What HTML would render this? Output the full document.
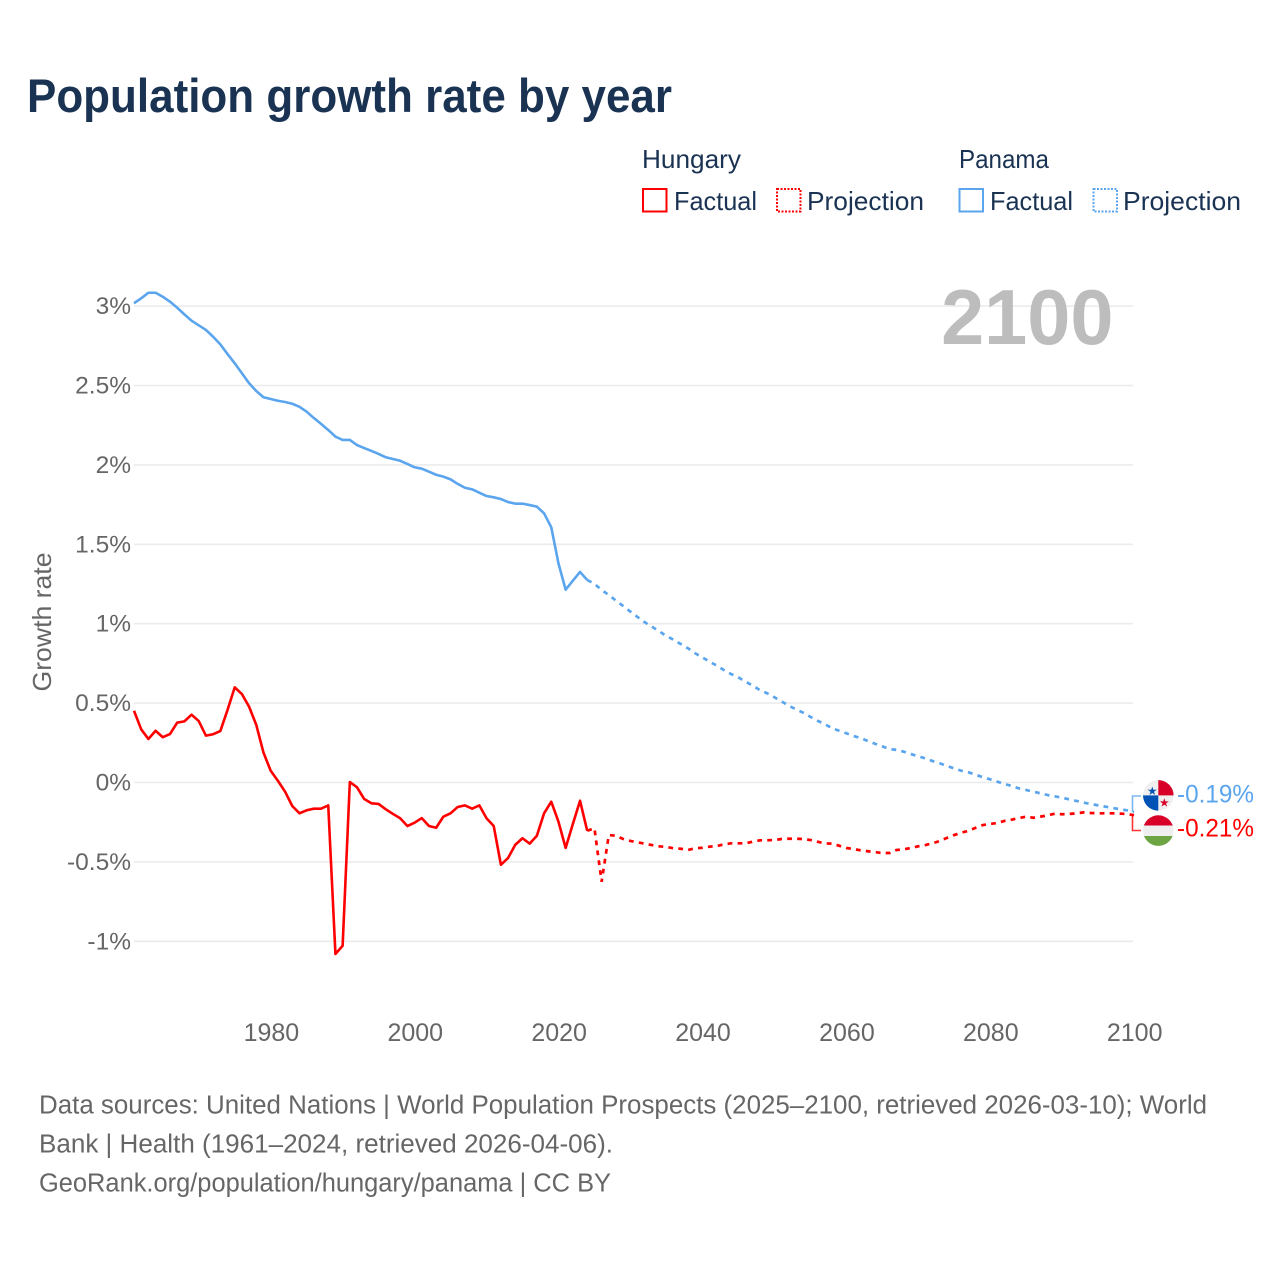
<!DOCTYPE html>
<html lang="en">
<head>
<meta charset="utf-8">
<title>Population growth rate by year</title>
<style>
html,body{margin:0;padding:0;background:#fff;}
svg{display:block;}
text{font-family:"Liberation Sans",sans-serif;}
</style>
</head>
<body>
<svg id="chart" xmlns="http://www.w3.org/2000/svg" width="1280" height="1280" viewBox="0 0 1280 1280">
  <rect x="0" y="0" width="1280" height="1280" fill="#fff"/>
  <text x="27" y="112" font-size="47" font-weight="700" fill="#1a3353" textLength="645" lengthAdjust="spacingAndGlyphs">Population growth rate by year</text>

  <g font-size="26" fill="#1a3353">
    <text x="642" y="168" textLength="99" lengthAdjust="spacingAndGlyphs">Hungary</text>
    <rect x="643" y="189" width="23.5" height="22.5" fill="none" stroke="#ff0000" stroke-width="2"/>
    <text x="674" y="210" textLength="83" lengthAdjust="spacingAndGlyphs">Factual</text>
    <rect x="777" y="189" width="23.5" height="22.5" fill="none" stroke="#ff0000" stroke-width="2" stroke-dasharray="2 1.5"/>
    <text x="807" y="210" textLength="117" lengthAdjust="spacingAndGlyphs">Projection</text>
    <text x="959" y="168" textLength="90" lengthAdjust="spacingAndGlyphs">Panama</text>
    <rect x="959.5" y="189" width="23.5" height="22.5" fill="none" stroke="#5aa5ee" stroke-width="2"/>
    <text x="990" y="210" textLength="83" lengthAdjust="spacingAndGlyphs">Factual</text>
    <rect x="1093.5" y="189" width="23.5" height="22.5" fill="none" stroke="#5aa5ee" stroke-width="2" stroke-dasharray="2 1.5"/>
    <text x="1123" y="210" textLength="118" lengthAdjust="spacingAndGlyphs">Projection</text>
  </g>

  <text transform="translate(51,622) rotate(-90)" text-anchor="middle" font-size="26" fill="#666666" textLength="139" lengthAdjust="spacingAndGlyphs">Growth rate</text>

  <g id="grid"></g>
  <g id="yticks"></g>
  <g id="xticks"></g>

  <text x="1113.5" y="344" text-anchor="end" font-size="77.5" font-weight="700" fill="#bdbdbd">2100</text>

  <g id="series"></g>

  <defs>
    <clipPath id="flag-clip-panama"><circle cx="1158.3" cy="795.4" r="15.3"/></clipPath>
    <clipPath id="flag-clip-hungary"><circle cx="1158.3" cy="830.6" r="15.3"/></clipPath>
  </defs>
  <g clip-path="url(#flag-clip-panama)">
    <rect x="1143" y="780" width="31" height="31" fill="#efefef"/>
    <rect x="1158.3" y="780" width="15.3" height="15.4" fill="#d80027"/>
    <rect x="1143" y="795.4" width="15.3" height="15.4" fill="#0052b4"/>
    <polygon points="1152.3,786.6 1153.4,789.8 1156.8,789.8 1154,791.8 1155.1,795 1152.3,793 1149.5,795 1150.6,791.8 1147.8,789.8 1151.2,789.8" fill="#0052b4"/>
    <polygon points="1164.3,798.2 1165.4,801.4 1168.8,801.4 1166,803.4 1167.1,806.6 1164.3,804.6 1161.5,806.6 1162.6,803.4 1159.8,801.4 1163.2,801.4" fill="#d80027"/>
  </g>
  <g clip-path="url(#flag-clip-hungary)">
    <rect x="1143" y="815" width="31" height="11" fill="#d80027"/>
    <rect x="1143" y="825.5" width="31" height="10.5" fill="#efefef"/>
    <rect x="1143" y="836" width="31" height="11" fill="#6da544"/>
  </g>

  <g id="endlabels" font-size="25"></g>

  <g font-size="25.5" fill="#666666">
    <text x="39" y="1113.5" textLength="1168" lengthAdjust="spacingAndGlyphs">Data sources: United Nations | World Population Prospects (2025–2100, retrieved 2026-03-10); World</text>
    <text x="39" y="1152.5" textLength="574" lengthAdjust="spacingAndGlyphs">Bank | Health (1961–2024, retrieved 2026-04-06).</text>
    <text x="39" y="1191.5" textLength="572" lengthAdjust="spacingAndGlyphs">GeoRank.org/population/hungary/panama | CC BY</text>
  </g>
</svg>

<script>
const factualStartYear = 1961;
const projectionStartYear = 2025;
const yTickValues = [3, 2.5, 2, 1.5, 1, 0.5, 0, -0.5, -1];
const xTickYears = [1980, 2000, 2020, 2040, 2060, 2080, 2100];

const panamaFactual = [
  3.018,3.049,3.084,3.084,3.059,3.028,2.990,2.948,2.908,2.879,
  2.850,2.807,2.759,2.698,2.640,2.577,2.514,2.465,2.426,2.415,
  2.404,2.396,2.385,2.366,2.335,2.295,2.258,2.220,2.178,2.157,
  2.157,2.125,2.106,2.088,2.069,2.048,2.037,2.026,2.006,1.985,
  1.976,1.957,1.938,1.926,1.909,1.880,1.856,1.846,1.825,1.804,
  1.796,1.785,1.766,1.756,1.756,1.747,1.737,1.695,1.607,1.380,
  1.214,1.271,1.326,1.275
];
const panamaProjection = [
  1.252,1.212,1.181,1.145,1.111,1.076,1.042,1.009,0.981,0.952,
  0.923,0.899,0.872,0.845,0.814,0.788,0.761,0.736,0.708,0.683,
  0.662,0.635,0.610,0.582,0.562,0.537,0.511,0.484,0.461,0.440,
  0.414,0.389,0.368,0.343,0.326,0.310,0.293,0.280,0.261,0.244,
  0.228,0.211,0.205,0.194,0.179,0.165,0.152,0.135,0.121,0.104,
  0.089,0.074,0.064,0.049,0.033,0.020,0.005,-0.009,-0.022,-0.037,
  -0.047,-0.058,-0.068,-0.079,-0.087,-0.096,-0.106,-0.116,-0.127,-0.135,
  -0.144,-0.152,-0.161,-0.167,-0.175,-0.186
];
const hungaryFactual = [
  0.452,0.335,0.274,0.326,0.285,0.305,0.377,0.385,0.427,0.387,
  0.295,0.304,0.324,0.457,0.599,0.557,0.477,0.362,0.188,0.074,
  0.011,-0.058,-0.148,-0.194,-0.175,-0.165,-0.165,-0.144,-1.080,-1.028,
  0.003,-0.030,-0.104,-0.131,-0.135,-0.169,-0.198,-0.225,-0.274,-0.253,
  -0.224,-0.274,-0.285,-0.215,-0.194,-0.154,-0.144,-0.165,-0.144,-0.225,
  -0.274,-0.518,-0.475,-0.392,-0.351,-0.385,-0.335,-0.194,-0.121,-0.247,
  -0.412,-0.261,-0.115,-0.304
];
const hungaryProjection = [
  -0.288,-0.625,-0.331,-0.335,-0.356,-0.368,-0.377,-0.385,-0.394,-0.402,
  -0.406,-0.414,-0.417,-0.425,-0.414,-0.411,-0.404,-0.400,-0.389,-0.383,
  -0.383,-0.383,-0.373,-0.364,-0.364,-0.362,-0.356,-0.354,-0.354,-0.356,
  -0.362,-0.373,-0.383,-0.385,-0.398,-0.412,-0.419,-0.427,-0.433,-0.438,
  -0.444,-0.444,-0.425,-0.421,-0.412,-0.402,-0.394,-0.383,-0.368,-0.349,
  -0.331,-0.316,-0.304,-0.285,-0.268,-0.261,-0.255,-0.242,-0.234,-0.224,
  -0.215,-0.222,-0.215,-0.207,-0.196,-0.200,-0.198,-0.194,-0.188,-0.192,
  -0.194,-0.194,-0.194,-0.196,-0.198,-0.206
];

const NS = 'http://www.w3.org/2000/svg';
const xOf = function (year) { return 134 + (year - 1961) * (1000 / 139); };
const yOf = function (value) { return 782.5 - value * 158.8; };

function make(tag, parent, attrs, textValue) {
  const el = document.createElementNS(NS, tag);
  Object.keys(attrs).forEach(function (k) { el.setAttribute(k, attrs[k]); });
  if (textValue !== undefined) { el.textContent = textValue; }
  parent.appendChild(el);
  return el;
}

const gridLayer = document.getElementById('grid');
const yLayer = document.getElementById('yticks');
const xLayer = document.getElementById('xticks');
const seriesLayer = document.getElementById('series');
const endLayer = document.getElementById('endlabels');

yTickValues.forEach(function (v) {
  const line = make('line', gridLayer, { x1: 134, x2: 1133, y1: yOf(v), y2: yOf(v), stroke: '#ebebeb', 'stroke-width': 1.6 });
  
  
  const label = make('text', yLayer, { x: 131, y: yOf(v) + 8, 'text-anchor': 'end', 'font-size': 24.5, fill: '#666666' }, v + '%');
  
  
});

xTickYears.forEach(function (yr) {
  const label = make('text', xLayer, { x: xOf(yr) + 0.7, y: 1041, 'text-anchor': 'middle', 'font-size': 25, fill: '#666666' }, String(yr));
  
  
});

function pathFrom(values, startYear) {
  return values.map(function (v, i) {
    return (i === 0 ? 'M' : 'L') + xOf(startYear + i).toFixed(2) + ' ' + yOf(v).toFixed(2);
  }).join(' ');
}

function drawSeries(factual, projection, color) {
  const lastFactual = factual[factual.length - 1];
  const dashed = [lastFactual].concat(projection);
  const p = make('path', seriesLayer, { d: pathFrom(dashed, projectionStartYear - 1), fill: 'none', stroke: color, 'stroke-width': 2.7, 'stroke-dasharray': '4.8 5.2' });
  
  
  const f = make('path', seriesLayer, { d: pathFrom(factual, factualStartYear), fill: 'none', stroke: color, 'stroke-width': 2.6, 'stroke-linejoin': 'round' });
  
  
}

drawSeries(panamaFactual, panamaProjection, '#5aa5ee');
drawSeries(hungaryFactual, hungaryProjection, '#ff0000');

function drawEnd(projection, color, flagY, labelY) {
  const last = projection[projection.length - 1];
  const c = make('path', endLayer, { d: 'M1132.5 ' + yOf(last).toFixed(1) + ' L1132.5 ' + flagY + ' L1141 ' + flagY, fill: 'none', stroke: color, 'stroke-width': 1.6, opacity: 0.8 });
  
  
  const t = make('text', endLayer, { x: 1177, y: labelY, fill: color, textLength: 77, lengthAdjust: 'spacingAndGlyphs' }, last.toFixed(2) + '%');
  
  
}

drawEnd(panamaProjection, '#5aa5ee', 796, 802.5);
drawEnd(hungaryProjection, '#ff0000', 830.5, 836.5);
</script>
</body>
</html>
